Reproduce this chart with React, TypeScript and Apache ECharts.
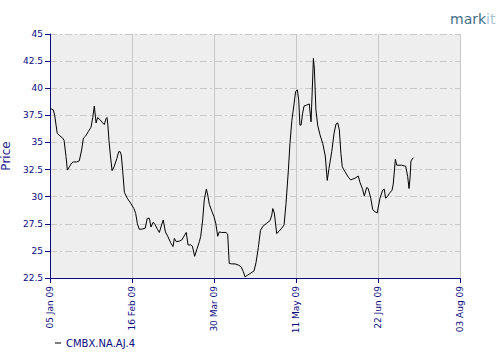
import React, { useEffect, useRef } from "react";
import * as echarts from "echarts";

// x: days since 05 Jan 2009, y: price
const days = [
  0, 1.7, 2.4, 3.7, 5.1, 6.5, 7.2, 8.2, 8.9, 9.9, 11.1, 11.9, 13.7, 15.0, 16.2, 17.1, 18.3, 19.6, 21.0, 21.9,
  22.7, 23.6, 24.4, 25.6, 27.0, 27.8, 28.7, 29.2, 29.6, 30.2, 30.9, 31.8, 32.8, 34.2, 35.2, 35.9, 36.5, 37.2, 38.1, 39.6,
  41.3, 43.0, 43.9, 44.7, 45.7, 47.0, 48.8, 49.8, 50.9, 51.7, 52.9, 53.9, 55.0, 56.0, 57.0, 58.0, 59.1, 60.3, 61.8, 63.0,
  63.7, 64.7, 66.2, 67.5, 68.6, 69.8, 70.7, 72.1, 72.9, 74.1, 75.4, 76.5, 77.2, 78.2, 79.0, 80.1, 80.8, 81.6, 83.0, 84.0,
  84.9, 85.9, 86.7, 87.9, 90.1, 91.0, 91.8, 93.1, 94.8, 96.4, 97.8, 99.0, 99.9, 101.1, 102.4, 104.5, 105.5, 106.7, 107.8, 109.2,
  111.0, 112.7, 113.6, 114.1, 114.9, 116.1, 117.3, 118.7, 119.9, 120.9, 122.1, 122.9, 123.9, 125.0, 125.8, 126.7, 127.4, 128.0, 128.6, 129.4,
  130.1, 131.5, 132.8, 133.7, 134.2, 134.9, 135.4, 136.2, 137.1, 138.3, 139.7, 141.0, 142.0, 142.9, 144.3, 145.5, 146.5, 147.4, 148.2, 149.0,
  149.7, 151.1, 152.8, 154.0, 156.2, 157.9, 158.8, 160.0, 161.0, 162.2, 163.0, 164.3, 165.3, 166.5, 167.6, 169.0, 170.4, 171.2, 171.9, 173.0,
  173.8, 175.2, 175.8, 176.9, 177.2, 177.6, 180.1, 182.2, 183.2, 183.9, 184.4, 184.9, 186.1,
];
const prices = [
  38.15, 38.0, 37.5, 35.85, 35.6, 35.4, 35.2, 33.7, 32.45, 32.75, 33.1, 33.2, 33.2, 33.3, 34.3, 35.4, 35.6, 36.0, 36.4, 37.3,
  38.35, 36.8, 37.3, 37.1, 36.8, 36.65, 37.2, 37.3, 36.7, 35.2, 33.85, 32.4, 32.75, 33.5, 34.15, 34.15, 33.85, 32.45, 30.4, 29.85,
  29.4, 28.9, 28.45, 27.55, 27.0, 27.0, 27.1, 28.0, 28.0, 27.2, 27.65, 27.4, 27.0, 26.7, 27.3, 27.85, 26.75, 26.35, 25.75, 25.4,
  26.15, 25.85, 25.9, 26.0, 26.35, 26.7, 25.55, 25.55, 25.45, 24.5, 25.25, 25.85, 26.35, 27.85, 29.7, 30.7, 30.15, 29.3, 28.6, 28.15,
  27.55, 26.35, 26.75, 26.7, 26.7, 26.55, 23.85, 23.8, 23.8, 23.7, 23.55, 23.1, 22.6, 22.75, 22.9, 23.15, 23.9, 25.3, 26.9, 27.3,
  27.55, 27.8, 28.3, 28.9, 28.5, 26.6, 26.8, 27.1, 27.4, 29.4, 32.45, 34.9, 37.05, 38.55, 39.7, 39.85, 38.9, 36.6, 36.6, 37.7,
  38.35, 38.45, 38.55, 36.9, 39.2, 42.75, 41.85, 38.0, 36.6, 35.7, 34.9, 33.75, 31.5, 32.6, 34.15, 35.85, 36.7, 36.8, 36.15, 34.0,
  32.75, 32.3, 31.8, 31.55, 31.7, 31.9, 31.3, 30.75, 30.05, 30.85, 30.75, 29.85, 28.8, 28.6, 28.5, 29.85, 30.6, 30.7, 29.85, 30.05,
  30.3, 30.6, 31.15, 33.45, 33.2, 32.9, 32.9, 32.8, 31.85, 30.75, 31.7, 33.3, 33.6,
];
const seriesName = "CMBX.NA.AJ.4";
const yMin = 22.5;
const yMax = 45;
const yStep = 2.5;
const xMax = 210; // 03 Aug 09
const xStep = 42;
const startDate = Date.UTC(2009, 0, 5);
const monthNames = ["Jan", "Feb", "Mar", "Apr", "May", "Jun", "Jul", "Aug", "Sep", "Oct", "Nov", "Dec"];

const NAVY = "#0a0a80";

function fmtDay(v: number): string {
  const d = new Date(startDate + Math.round(v) * 86400000);
  const dd = String(d.getUTCDate()).padStart(2, "0");
  const yy = String(d.getUTCFullYear() % 100).padStart(2, "0");
  return `${dd} ${monthNames[d.getUTCMonth()]} ${yy}`;
}

export default function App() {
  const ref = useRef<HTMLDivElement>(null);
  useEffect(() => {
    if (!ref.current) return;
    const chart = echarts.init(ref.current, null, { renderer: "svg" });
    const font = "DejaVu Sans, Verdana, sans-serif";
    chart.setOption({
      animation: false,
      backgroundColor: "#ffffff",
      textStyle: { fontFamily: font },
      grid: {
        left: 50,
        top: 34,
        right: 40,
        bottom: 82,
        show: true,
        backgroundColor: "#eeeeee",
        borderWidth: 0,
        containLabel: false,
        outerBoundsMode: "none",
      },
      graphic: [
        {
          type: "text",
          left: 450,
          top: 12,
          style: {
            text: "{a|mark}{b|it}",
            rich: {
              a: { fill: "#3f6f87", fontSize: 14, fontFamily: font },
              b: { fill: "#a9c3d0", fontSize: 14, fontFamily: font },
            },
          },
        },
      ],
      legend: {
        left: 50,
        top: 333,
        icon: "rect",
        itemWidth: 6,
        itemHeight: 1,
        itemGap: 4,
        textStyle: { color: NAVY, fontSize: 10, fontFamily: font },
        data: [{ name: seriesName, itemStyle: { color: "#000000" } }],
      },
      xAxis: {
        type: "value",
        min: 0,
        max: xMax,
        interval: xStep,
        axisLine: { show: true, lineStyle: { color: NAVY, width: 1 } },
        axisTick: { show: true, length: 5, lineStyle: { color: NAVY } },
        axisLabel: {
          rotate: 90,
          margin: 8,
          color: NAVY,
          fontSize: 9,
          fontFamily: font,
          formatter: (v: number) => fmtDay(v),
        },
        splitLine: { show: true, lineStyle: { color: "#c8c8c8", width: 1, type: "solid" } },
      },
      yAxis: {
        type: "value",
        min: yMin,
        max: yMax,
        interval: yStep,
        name: "Price",
        nameLocation: "middle",
        nameGap: 37,
        nameTextStyle: { color: "#22228f", fontSize: 12, fontFamily: font },
        axisLine: { show: true, lineStyle: { color: NAVY, width: 1 } },
        axisTick: { show: true, length: 5, lineStyle: { color: NAVY } },
        axisLabel: { margin: 7, color: NAVY, fontSize: 9, fontFamily: font },
        splitLine: { show: true, lineStyle: { color: "#c8c8c8", width: 1, type: [7, 3, 2, 3] } },
      },
      series: [
        {
          name: seriesName,
          type: "line",
          data: days.map((d, i) => [d, prices[i]]),
          showSymbol: false,
          symbol: "none",
          lineStyle: { color: "#000000", width: 1 },
          itemStyle: { color: "#000000" },
        },
      ],
    });
    return () => chart.dispose();
  }, []);
  return (
    <div
      ref={ref}
      style={{ position: "fixed", left: 0, top: 0, width: 500, height: 360, background: "#fff" }}
    />
  );
}
